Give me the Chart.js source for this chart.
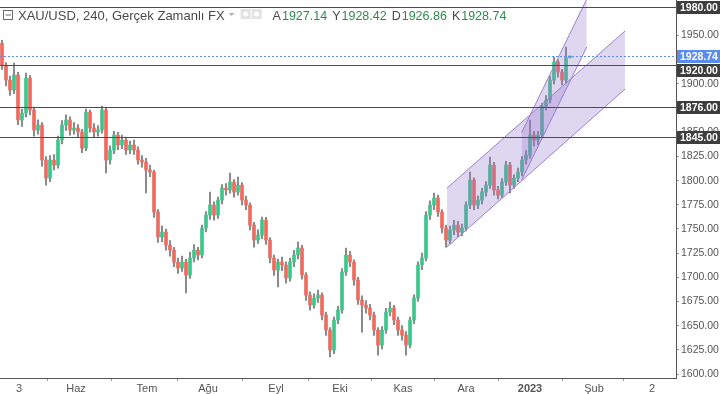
<!DOCTYPE html>
<html><head><meta charset="utf-8">
<script src="https://cdn.jsdelivr.net/npm/chart.js@4.4.1/dist/chart.umd.min.js"></script>
<style>html,body{margin:0;padding:0;background:#fff}#wrap{width:720px;height:394px;position:relative}</style>
</head><body><div id="wrap"><canvas id="c" width="720" height="394"></canvas></div>
<script>
// ---- data (4H candles, one per index) ----
const opens = [1942,1919.5,1904,1893.7,1909.2,1862.7,1869.9,1906.1,1873,1852.3,
1857.5,1821.3,1802.7,1821.3,1816.1,1842,1857.5,1862.7,1852.3,1854.4,
1850.3,1833.7,1870.9,1854.4,1850.3,1852.3,1873,1821.3,1831.6,1847.1,
1836.8,1842,1831.6,1836.8,1831.6,1821.3,1819.2,1811,1808.9,1767.5,
1741.7,1746.8,1733.4,1728.2,1715.8,1709.6,1715.8,1702.4,1720,1728.2,
1723.1,1751,1764.4,1774.8,1764.4,1779.9,1792.3,1790.3,1798.5,1788.2,
1795.4,1779.9,1774.8,1754.1,1738.6,1743.7,1759.3,1738.6,1720,1707.5,
1715.8,1712.7,1699.3,1715.8,1723.1,1730.3,1702.4,1681.7,1671.4,1678.6,
1681.7,1661,1645.5,1624.8,1655.8,1666.2,1705.5,1723.1,1715.8,1697.2,
1676.5,1671.4,1668.3,1661,1645.5,1630,1645.5,1664.1,1668.3,1655.8,
1645.5,1640.3,1630,1655.8,1678.6,1712.7,1720,1764.4,1774.8,1782,
1767.5,1751,1738.6,1749,1754.1,1746.8,1751,1774.8,1800.6,1774.8,
1779.9,1788.2,1795.4,1816.1,1790.3,1785,1798.5,1816.1,1795.4,1802.7,
1808.9,1821.3,1826.5,1847.1,1842,1847.1,1877.1,1883.3,1904,1922.6,
1912.3,1904,1927.14];
const highs = [1945,1922,1908,1921.6,1912,1874,1911.3,1909,1876,1863,
1860,1825,1826,1827,1846,1862,1868,1866,1860,1858,
1853,1874,1873,1859,1857,1877.1,1875,1836,1851,1850,
1847,1845,1841,1842,1835,1826,1823,1816,1811,1770,
1753,1750,1738,1731,1720,1722,1719,1726,1734,1731,
1754,1768,1788.2,1778,1783,1796,1797,1807.9,1801,1803.7,
1798,1784,1777,1757,1749,1762.4,1762,1741,1723,1719,
1721,1716,1720,1728,1736.5,1733,1705,1685,1683,1686.9,
1684,1664,1648,1659,1670,1709,1730.3,1727,1718,1700,
1681,1676,1672,1664,1648,1649,1668,1674.5,1671,1659,
1650,1644,1659,1682,1716,1725,1768,1779,1787.2,1785,
1770,1754,1753,1759,1758,1755,1778,1808.9,1803,1784,
1792,1799,1824.4,1819,1794,1802,1820,1819,1806,1813,
1825,1831,1862.7,1851,1851,1880,1888,1908,1927.8,1925,
1915,1938,1928.74];
const lows = [1915,1898,1888,1890,1858,1856,1866,1868,1846,1848,
1815,1795.4,1799,1811,1813,1838,1852,1847,1848,1845,
1829,1831,1850,1845,1846,1849,1807.9,1817,1828,1832,
1833,1827,1828,1827,1817,1814,1787.2,1804,1762,1736,
1737,1728,1722,1711,1704,1706,1683.8,1699,1716,1718,
1720,1747,1760,1759,1761,1776,1785,1787,1783,1785,
1775,1770,1749,1731.3,1735,1740,1734,1715,1702,1690,
1707,1694,1696,1711,1719,1698,1676,1666,1668,1674,
1656,1640,1617.6,1621,1652,1663,1702,1711,1692,1672,
1643.4,1663,1656,1640,1619.6,1626,1642,1660,1651,1640,
1635,1619.6,1627,1652,1675,1708,1717,1760,1770,1763,
1746,1731.3,1735,1744,1742,1743,1748,1771,1770,1771,
1776,1784,1792,1785,1781,1782,1795,1787.2,1792,1799,
1805,1817,1823,1836,1837,1844,1873,1880,1900,1907,
1899,1901,1926.86];
const closes = [1919.5,1904,1893.7,1909.2,1862.7,1869.9,1906.1,1873,1852.3,1857.5,
1821.3,1802.7,1821.3,1816.1,1842,1857.5,1862.7,1852.3,1854.4,1850.3,
1833.7,1870.9,1854.4,1850.3,1852.3,1873,1821.3,1831.6,1847.1,1836.8,
1842,1831.6,1836.8,1831.6,1821.3,1819.2,1811,1808.9,1767.5,1741.7,
1746.8,1733.4,1728.2,1715.8,1709.6,1715.8,1702.4,1720,1728.2,1723.1,
1751,1764.4,1774.8,1764.4,1779.9,1792.3,1790.3,1798.5,1788.2,1795.4,
1779.9,1774.8,1754.1,1738.6,1743.7,1759.3,1738.6,1720,1707.5,1715.8,
1712.7,1699.3,1715.8,1723.1,1730.3,1702.4,1681.7,1671.4,1678.6,1681.7,
1661,1645.5,1624.8,1655.8,1666.2,1705.5,1723.1,1715.8,1697.2,1676.5,
1671.4,1668.3,1661,1645.5,1630,1645.5,1664.1,1668.3,1655.8,1645.5,
1640.3,1630,1655.8,1678.6,1712.7,1720,1764.4,1774.8,1782,1767.5,
1751,1738.6,1749,1754.1,1746.8,1751,1774.8,1800.6,1774.8,1779.9,
1788.2,1795.4,1816.1,1790.3,1785,1798.5,1816.1,1795.4,1802.7,1808.9,
1821.3,1826.5,1847.1,1842,1847.1,1877.1,1883.3,1904,1922.6,1912.3,
1904,1927.14,1928.74];

// x-axis labels and their bar-index positions
const xTickPos = [4.25, 18.5, 36.25, 51.5, 68.5, 84.5, 100.25, 116, 132, 148, 162.5];
const xTickLabels = ['3','Haz','Tem','Ağu','Eyl','Eki','Kas','Ara','2023','Şub','2'];
const yTickValues = [1600,1625,1650,1675,1700,1725,1750,1775,1800,1825,1850,1875,1900,1925,1950,1975];

// horizontal levels and last price
const levels = [1980, 1920, 1876, 1845];
const lastPrice = 1928.74;

// channels: [barIndex, price]
const ch1Upper = [[111.25, 1792.3], [155.75, 1954.7]];
const ch1Lower = [[111.25, 1731.3], [155.75, 1894.7]];
const ch2Upper = [[129.9, 1849.7], [146.2, 1987.8]];
const ch2Lower = [[129.9, 1800.6], [146.2, 1938.2]];

// header
const symbolTitle = 'XAU/USD, 240, Gerçek Zamanlı FX';
const ohlcHeader = [['A','1927.14'],['Y','1928.42'],['D','1926.86'],['K','1928.74']];

const UP = '#3dc68a', DOWN = '#ef6b5f', WICK = '#737375';
const FONT = '"Liberation Sans", Arial, sans-serif';

const bodyColors = opens.map((o,i)=> closes[i] >= o ? UP : DOWN);
const toPts = arr => arr.map(p => ({x:p[0], y:p[1]}));

const overlay = {
  id:'overlay',
  afterDatasetsDraw(chart){
    const {ctx, chartArea:a, scales:{y}} = chart;
    ctx.save();
    ctx.beginPath(); ctx.rect(a.left, a.top, a.right-a.left, a.bottom-a.top); ctx.clip();
    ctx.strokeStyle = '#4d4d4d'; ctx.lineWidth = 1;
    levels.forEach(v => {
      const py = Math.round(y.getPixelForValue(v)) + 0.5;
      ctx.beginPath(); ctx.moveTo(a.left, py); ctx.lineTo(a.right, py); ctx.stroke();
    });
    const py = Math.round(y.getPixelForValue(lastPrice)) + 0.5;
    ctx.strokeStyle = '#5b8def'; ctx.setLineDash([2,2]);
    ctx.beginPath(); ctx.moveTo(a.left, py); ctx.lineTo(a.right, py); ctx.stroke();
    ctx.restore();
  },
  afterDraw(chart){
    const {ctx, chartArea:a, scales:{y}} = chart;
    ctx.save();
    const H = 13;
    const topFor = v => Math.max(0, Math.round(y.getPixelForValue(v)) - 6);
    const lastTop = topFor(lastPrice);
    const box = (v, color, top) => {
      ctx.fillStyle = color;
      ctx.fillRect(a.right+1, top, chart.width - a.right - 1, H);
      ctx.fillStyle = '#fff';
      ctx.font = 'bold 10.5px ' + FONT;
      ctx.textBaseline = 'middle'; ctx.textAlign = 'left';
      ctx.fillText(v.toFixed(2), a.right + 4, top + 7);
    };
    levels.forEach(v => {
      let top = topFor(v);
      if (top < lastTop + H && top + H > lastTop) {
        top = (v < lastPrice) ? lastTop + H + 1 : lastTop - H - 1;
      }
      box(v, '#3d3d3d', top);
    });
    box(lastPrice, '#5a8cf0', lastTop);

    // header
    ctx.strokeStyle = '#6a6a6a'; ctx.lineWidth = 1;
    ctx.strokeRect(3.5, 10.5, 9, 9);
    ctx.beginPath(); ctx.moveTo(5.5, 15); ctx.lineTo(11, 15); ctx.stroke();
    ctx.font = '13px ' + FONT; ctx.fillStyle = '#4a4a4a';
    ctx.textBaseline = 'alphabetic'; ctx.textAlign = 'left';
    ctx.fillText(symbolTitle, 18, 20);
    let x = 18 + ctx.measureText(symbolTitle).width + 4;
    ctx.fillStyle = '#b0b0b0';
    ctx.beginPath(); ctx.moveTo(x, 13); ctx.lineTo(x+6, 13); ctx.lineTo(x+3, 16); ctx.closePath(); ctx.fill();
    x += 12;
    ctx.fillStyle = '#e3e3e3';
    ctx.fillRect(x, 9, 10, 10); ctx.fillRect(x+11, 9, 10, 10);
    ctx.fillStyle = '#fff';
    ctx.beginPath(); ctx.arc(x+5, 14, 2.5, 0, Math.PI*2); ctx.fill();
    ctx.beginPath(); ctx.arc(x+16, 14, 2.5, 0, Math.PI*2); ctx.fill();
    x += 32;
    ctx.font = '12.5px ' + FONT;
    ohlcHeader.forEach(([k,v]) => {
      ctx.fillStyle = '#4a4a4a'; ctx.fillText(k, x, 20); x += ctx.measureText(k).width + 1;
      ctx.fillStyle = '#2f8a4e'; ctx.fillText(v, x, 20); x += ctx.measureText(v).width + 5;
    });
    ctx.restore();
  }
};

new Chart(document.getElementById('c'), {
  type: 'bar',
  data: {
    datasets: [
      { type:'line', data: toPts(ch1Upper), borderColor:'#9a7fd0', borderWidth:1, pointRadius:0, fill:false, order:0 },
      { type:'line', data: toPts(ch1Lower), borderColor:'#9a7fd0', borderWidth:1, pointRadius:0, fill:'-1', backgroundColor:'rgba(150,120,205,0.3)', order:0 },
      { type:'line', data: toPts(ch2Upper), borderColor:'#9a7fd0', borderWidth:1, pointRadius:0, fill:false, order:0 },
      { type:'line', data: toPts(ch2Lower), borderColor:'#9a7fd0', borderWidth:1, pointRadius:0, fill:'-1', backgroundColor:'rgba(150,120,205,0.3)', order:0 },
      { type:'bar', data: opens.map((o,i)=>({x:i, y:[o, closes[i]]})), backgroundColor: bodyColors, barThickness:3, grouped:false, minBarLength:1, order:1 },
      { type:'bar', data: lows.map((l,i)=>({x:i, y:[l, highs[i]]})), backgroundColor: WICK, barThickness:1, grouped:false, order:2 }
    ]
  },
  options: {
    responsive:false, animation:false, devicePixelRatio:1,
    layout:{ padding:0 },
    plugins:{ legend:{display:false}, tooltip:{enabled:false} },
    scales:{
      x:{ type:'linear', min:-0.5, max:168.5, offset:false,
          grid:{ drawOnChartArea:false, tickLength:3, color:'#999' },
          border:{ display:true, color:'#555' },
          ticks:{ autoSkip:false, maxRotation:0, padding:1, color:'#555',
                  font: c => ({ family: FONT, size: 11, weight: (c.tick && c.tick.value === 132) ? 'bold' : 'normal' }),
                  callback: v => { const k = xTickPos.indexOf(v); return k >= 0 ? xTickLabels[k] : ''; } },
          afterBuildTicks: s => { s.ticks = xTickPos.map(v => ({value:v})); },
          afterFit: s => { s.height = 16; s.paddingLeft = 0; s.paddingRight = 0; } },
      y:{ type:'linear', position:'right', min:1595.9, max:1986.8,
          grid:{ drawOnChartArea:false, tickLength:3, color:'#999' },
          border:{ display:true, color:'#555' },
          ticks:{ padding:2, color:'#555', font:{ family: FONT, size: 10.5 }, callback: v => v.toFixed(2) },
          afterBuildTicks: s => { s.ticks = yTickValues.map(v => ({value:v})); },
          afterFit: s => { s.width = 44; s.paddingTop = 0; s.paddingBottom = 0; } }
    }
  },
  plugins:[overlay]
});
</script></body></html>
